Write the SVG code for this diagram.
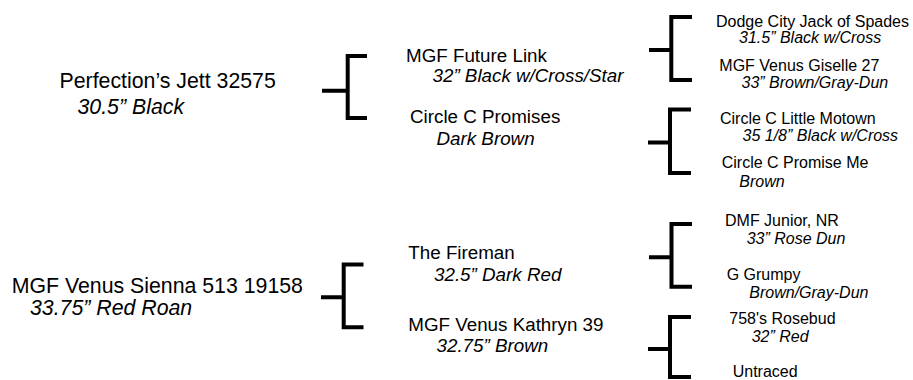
<svg xmlns="http://www.w3.org/2000/svg" width="913" height="380" viewBox="0 0 913 380">
<style>
text{font-family:"Liberation Sans",Arial,Helvetica,sans-serif;fill:#000}
.l{font-size:21.3px}
.m{font-size:18.8px}
.r{font-size:16px}
.i{font-style:italic}
.br{fill:none;stroke:#000;stroke-width:4;stroke-linecap:butt;stroke-linejoin:miter}
</style>
<rect width="913" height="380" fill="#fff"/>
<g id="connectors">
<path class="br" d="M322 90.7H347.7M367 56H347.7V118H367"/>
<path class="br" d="M649 50H671.3M692 17H671.3V80H692"/>
<path class="br" d="M648 142.5H670M691 109.5H670V173H691"/>
<path class="br" d="M321 297.3H343.7M363.5 264.5H343.7V327.3H363.5"/>
<path class="br" d="M649 257.3H671.5M692 224H671.5V286.8H692"/>
<path class="br" d="M648 349H670M691 317H670V377H691"/>
</g>
<g id="perfections-jett">
<text class="l" x="59.5" y="88">Perfection’s Jett 32575</text>
<text class="l i" x="77.5" y="113.5">30.5” Black</text>
</g>
<g id="mgf-future-link">
<text class="m" x="406" y="61.7">MGF Future Link</text>
<text class="m i" x="432.5" y="81.7">32” Black w/Cross/Star</text>
</g>
<g id="circle-c-promises">
<text class="m" x="410" y="122.7">Circle C Promises</text>
<text class="m i" x="436.5" y="145">Dark Brown</text>
</g>
<g id="dodge-city-jack">
<text class="r" x="716" y="26.7">Dodge City Jack of Spades</text>
<text class="r i" x="739" y="43.3">31.5” Black w/Cross</text>
</g>
<g id="mgf-venus-giselle">
<text class="r" x="719.3" y="71">MGF Venus Giselle 27</text>
<text class="r i" x="741.5" y="88.3">33” Brown/Gray-Dun</text>
</g>
<g id="circle-c-little-motown">
<text class="r" x="720" y="124">Circle C Little Motown</text>
<text class="r i" x="742.5" y="140.7">35 1/8” Black w/Cross</text>
</g>
<g id="circle-c-promise-me">
<text class="r" x="721.7" y="168.3">Circle C Promise Me</text>
<text class="r i" x="739.3" y="186.7">Brown</text>
</g>
<g id="mgf-venus-sienna">
<text class="l" x="11.7" y="292.8">MGF Venus Sienna 513 19158</text>
<text class="l i" x="30" y="314.5">33.75” Red Roan</text>
</g>
<g id="the-fireman">
<text class="m" x="408.3" y="259.3">The Fireman</text>
<text class="m i" x="434" y="280.7">32.5” Dark Red</text>
</g>
<g id="mgf-venus-kathryn">
<text class="m" x="408.3" y="330.7">MGF Venus Kathryn 39</text>
<text class="m i" x="436.5" y="351.7">32.75” Brown</text>
</g>
<g id="dmf-junior">
<text class="r" x="725" y="226">DMF Junior, NR</text>
<text class="r i" x="746.7" y="244.3">33” Rose Dun</text>
</g>
<g id="g-grumpy">
<text class="r" x="726.7" y="280">G Grumpy</text>
<text class="r i" x="749.3" y="297.7">Brown/Gray-Dun</text>
</g>
<g id="rosebud">
<text class="r" x="729.3" y="324">758's Rosebud</text>
<text class="r i" x="751.7" y="342.3">32” Red</text>
</g>
<g id="untraced">
<text class="r" x="732.7" y="376.5">Untraced</text>
</g>
</svg>
